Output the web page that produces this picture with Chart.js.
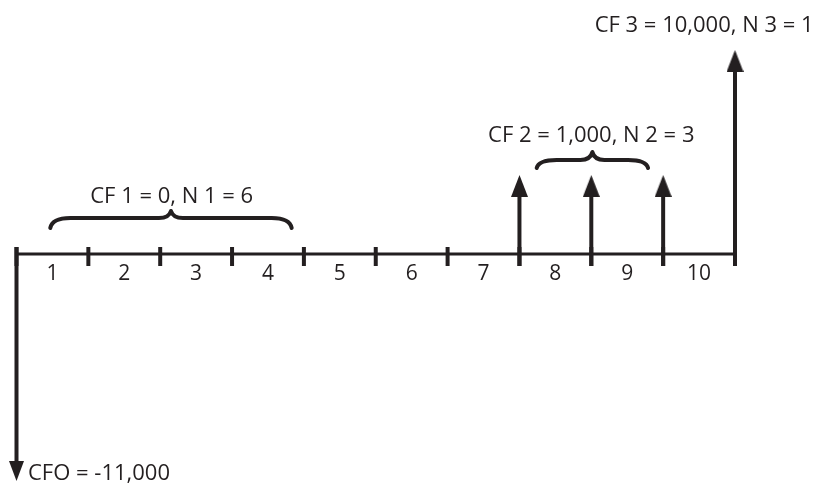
<!DOCTYPE html>
<html>
<head>
<meta charset="utf-8">
<script src="https://cdn.jsdelivr.net/npm/chart.js@4.4.1/dist/chart.umd.min.js"></script>
<style>
  html, body { margin: 0; padding: 0; background: #fff; }
  #wrap { width: 817px; height: 483px; }
</style>
</head>
<body>
<div id="wrap"><canvas id="timeline"></canvas></div>
<script>
// periods on the time line
const periodLabels = ["1", "2", "3", "4", "5", "6", "7", "8", "9", "10"];
const periodTicks = [0, 1, 2, 3, 4, 5, 6, 7, 8, 9, 10];

// cash flows: period, amount, drawn arrow height (diagram units, not to scale)
const flowPeriods = [0, 7, 8, 9, 10];
const flowAmounts = [-11000, 1000, 1000, 1000, 10000];
const arrowHeights = [-227, 79, 79, 79, 204];

// grouped flows as keyed into the calculator
const groupAmounts = [0, 1000, 10000];
const groupCounts = [6, 3, 1];
const initialFlow = flowAmounts[0];

const ink = "#231f20";
const fmt = v => v.toLocaleString("en-US");

function makeHead(w, h, down) {
  const c = document.createElement("canvas");
  c.width = w;
  c.height = h * 2;
  const g = c.getContext("2d");
  g.fillStyle = ink;
  g.beginPath();
  if (down) {
    g.moveTo(w / 2, h); g.lineTo(0, 0); g.lineTo(w, 0);
  } else {
    g.moveTo(w / 2, h); g.lineTo(0, 2 * h); g.lineTo(w, 2 * h);
  }
  g.closePath();
  g.fill();
  return c;
}
const upHead = makeHead(17, 22, false);
const downHead = makeHead(15, 20, true);

function drawBrace(ctx, x1, x2, yEnd, yFlat, yTip) {
  const xm = (x1 + x2) / 2;
  ctx.beginPath();
  ctx.moveTo(x1, yEnd);
  ctx.quadraticCurveTo(x1 + 2, yFlat, x1 + 20, yFlat);
  ctx.lineTo(xm - 12, yFlat);
  ctx.quadraticCurveTo(xm - 2, yFlat, xm, yTip);
  ctx.quadraticCurveTo(xm + 2, yFlat, xm + 12, yFlat);
  ctx.lineTo(x2 - 20, yFlat);
  ctx.quadraticCurveTo(x2 - 2, yFlat, x2, yEnd);
  ctx.stroke();
}

const notes = [
  { text: `CF 1 = ${fmt(groupAmounts[0])}, N 1 = ${groupCounts[0]}`, x: 2.16, y: 51, align: "center" },
  { text: `CF 2 = ${fmt(groupAmounts[1])}, N 2 = ${groupCounts[1]}`, x: 8.0, y: 112, align: "center" },
  { text: `CF 3 = ${fmt(groupAmounts[2])}, N 3 = ${groupCounts[2]}`, x: 9.57, y: 222, align: "center" },
  { text: `CFO = ${fmt(initialFlow)}`, x: 0.16, y: -226, align: "left" }
];

const notesPlugin = {
  id: "notes",
  afterDatasetsDraw(chart) {
    const { ctx, scales: { x, y } } = chart;
    ctx.save();
    ctx.strokeStyle = ink;
    ctx.fillStyle = ink;
    ctx.lineWidth = 4;
    ctx.lineCap = "round";
    ctx.lineJoin = "round";
    drawBrace(ctx, x.getPixelForValue(0.47), x.getPixelForValue(3.83),
      y.getPixelForValue(26), y.getPixelForValue(36), y.getPixelForValue(43));
    drawBrace(ctx, x.getPixelForValue(7.24), x.getPixelForValue(8.79),
      y.getPixelForValue(86), y.getPixelForValue(94), y.getPixelForValue(102));
    ctx.font = '22px "Open Sans"';
    ctx.textBaseline = "alphabetic";
    notes.forEach(n => {
      ctx.textAlign = n.align;
      ctx.fillText(n.text, x.getPixelForValue(n.x), y.getPixelForValue(n.y));
    });
    ctx.restore();
  }
};

// arrow shafts, one dataset each
const shafts = flowPeriods.map((p, i) => {
  const h = arrowHeights[i];
  const start = h < 0 ? 7 : -12;
  const end = h < 0 ? h + 10 : h - 10;
  return {
    type: "line",
    data: [{ x: p, y: start }, { x: p, y: end }],
    borderColor: ink,
    borderWidth: 4,
    borderCapStyle: "butt",
    pointRadius: 0,
    fill: false
  };
});

const ctx = document.getElementById("timeline").getContext("2d");
new Chart(ctx, {
  type: "scatter",
  data: {
    datasets: [
      {
        // time line
        type: "line",
        data: [{ x: periodTicks[0], y: 0 }, { x: periodTicks[periodTicks.length - 1], y: 0 }],
        borderColor: ink,
        borderWidth: 3,
        borderCapStyle: "butt",
        pointRadius: 0
      },
      {
        // period boundaries
        data: periodTicks.map(t => ({ x: t, y: -2.5 })),
        pointStyle: "line",
        rotation: 90,
        pointRadius: 9.5,
        borderWidth: 4,
        borderColor: ink
      },
      ...shafts,
      {
        // arrow heads
        data: flowPeriods.map((p, i) => ({ x: p, y: arrowHeights[i] })),
        pointStyle: c => (arrowHeights[c.dataIndex] < 0 ? downHead : upHead),
        pointRadius: 5
      }
    ]
  },
  options: {
    responsive: true,
    maintainAspectRatio: false,
    animation: false,
    events: [],
    layout: { padding: 0, autoPadding: false },
    plugins: { legend: { display: false }, tooltip: { enabled: false } },
    scales: {
      x: {
        type: "linear",
        min: -16.5 / 71.85,
        max: (817 - 16.5) / 71.85,
        position: { y: 0 },
        grid: { display: false, drawTicks: false },
        border: { display: false },
        afterBuildTicks: axis => {
          axis.ticks = periodLabels.map((_, i) => ({ value: i + 0.5 }));
        },
        ticks: {
          autoSkip: false,
          maxRotation: 0,
          padding: 7,
          color: ink,
          font: { family: "Open Sans", size: 21 },
          callback: (v, i) => periodLabels[i]
        }
      },
      y: {
        type: "linear",
        display: false,
        min: -229,
        max: 254
      }
    }
  },
  plugins: [notesPlugin]
});
</script>
</body>
</html>
